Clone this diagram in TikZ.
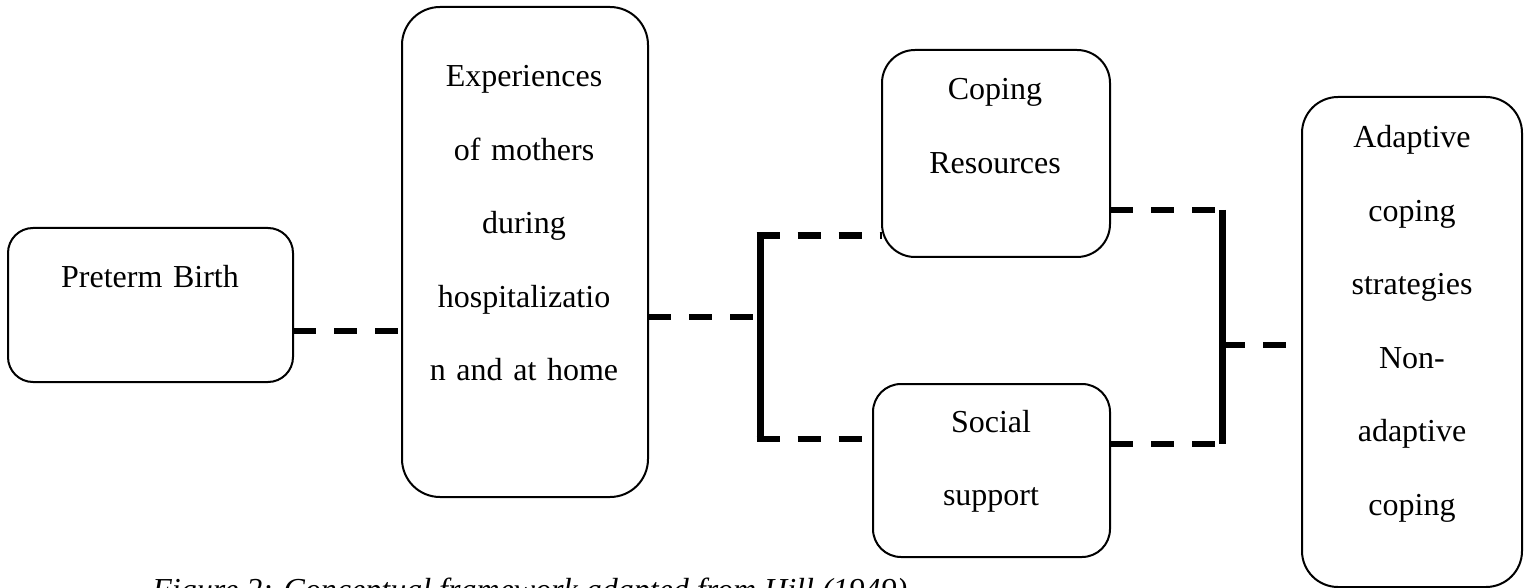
\documentclass[tikz,border=0pt]{standalone}
\usepackage{fontspec}
\setmainfont{Liberation Serif}
\usetikzlibrary{calc}

\begin{document}
\begin{tikzpicture}[x=0.5pt,y=-0.5pt,
	box/.style={draw, line width=1pt, rounded corners=#1, inner sep=0pt, outer sep=0pt},
	txt/.style={anchor=base, text width=110pt, align=center, inner sep=0pt, font=\fontsize{16}{36.75}\selectfont},
	link/.style={line width=3pt, dash pattern=on 11.5pt off 9pt},
	bar/.style={line width=3.5pt}]
	
	\useasboundingbox (0,0) rectangle (1525,588);
	
	% boxes
	\node[box=12.5pt, minimum width=142.5pt, minimum height=77pt] (pb) at (150.5,305) {};
	\node[box=19pt, minimum width=123pt, minimum height=245pt] (exp) at (525,252) {};
	\node[box=16.5pt, minimum width=114pt, minimum height=103.5pt] (cr) at (996,153.5) {};
	\node[box=14pt, minimum width=118.5pt, minimum height=86.5pt] (ss) at (991.5,470.5) {};
	\node[box=18pt, minimum width=110pt, minimum height=245pt] (ac) at (1412,342) {};
	
	% texts
	\node[txt] (pbt) at (150,287) {Preterm Birth};
	\node[txt] (expt) at (524,87) {Experiences\\of mothers\\during\\hospitalizatio\\n and at home};
	\node[txt] (crt) at (995,100) {Coping\\Resources};
	\node[txt] (sst) at (991,432) {Social\\support};
	\node[txt] (act) at (1412,148) {Adaptive\\coping\\strategies\\Non-\\adaptive\\coping};
	\node[anchor=base west, inner sep=0pt, font=\itshape\fontsize{16}{19}\selectfont] (cap) at (152,600) {Figure 2: Conceptual framework adapted from Hill (1949)};
	
	\coordinate (l1) at (0,331);
	\coordinate (bl) at (760,317);
	\coordinate (blt) at (760,236);
	\coordinate (blb) at (760,439);
	\coordinate (brt) at (1222,210);
	\coordinate (brb) at (1222,444);
	\coordinate (bm) at (1222,345);
	
	\draw[link] (pb.east |- l1) -- (exp.west |- l1);
	\draw[link] (exp.east |- bl) -- (bl);
	\draw[bar] (blt) -- (blb);
	\draw[link, line width=3.5pt] ([xshift=-1.75pt]blt) -- (cr.west |- blt);
	\draw[link] ([xshift=-1.75pt]blb) -- (ss.west |- blb);
	
	\draw[link] (cr.east |- brt) -- ([xshift=1.75pt]brt);
	\draw[link] (ss.east |- brb) -- ([xshift=1.75pt]brb);
	\draw[bar] (brt) -- (brb);
	\draw[link, shorten >=7pt] (bm) -- (ac.west |- bm);
	
\end{tikzpicture}
\end{document}
